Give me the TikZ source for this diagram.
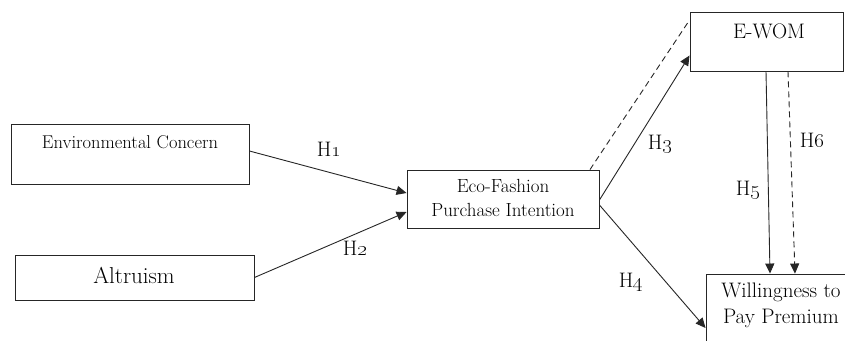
\documentclass[tikz,border=0pt]{standalone}
\usetikzlibrary{arrows.meta}
\tikzset{
  box/.style={draw=black!85, line width=0.9pt, rectangle, inner sep=0pt},
  txt/.style={inner sep=0pt, align=center, text=black},
  conn/.style={draw=black!85, line width=0.9pt},
  arr/.style={conn, -{Triangle[length=10pt,width=9pt]}},
  hyp/.style={inner sep=0pt, text=black, font=\fontsize{21}{23}\selectfont},
}
\newcommand{\hnum}[1]{H\oldstylenums{#1}}
\begin{document}
\begin{tikzpicture}[x=1pt,y=-1pt]
\clip (0,0) rectangle (845,340);
\fill[white] (0,0) rectangle (845,340);
% boxes
\node[box, minimum width=238pt, minimum height=60pt] (ec) at (130,154) {};
\node[box, minimum width=239pt, minimum height=45pt] (al) at (134.5,277.5) {};
\node[box, minimum width=192pt, minimum height=58pt] (eco) at (503,199) {};
\node[box, minimum width=153pt, minimum height=59pt] (ewom) at (766.5,41.5) {};
\node[box, minimum width=150pt, minimum height=80pt] (wtp) at (781,314) {};
% texts
\node[txt, font=\fontsize{18.5}{20}\selectfont] (tec) at (130,142) {Environmental Concern};
\node[txt, font=\fontsize{23}{25}\selectfont] (tal) at (134,275) {Altruism};
\node[txt, font=\fontsize{19}{24}\selectfont] (teco) at (503,198) {Eco-Fashion\\Purchase Intention};
\node[txt, font=\fontsize{21}{23}\selectfont] (tewom) at (769,31) {E-WOM};
\node[txt, font=\fontsize{21}{26}\selectfont] (twtp) at (781,305) {Willingness to\\Pay Premium};
% connectors
\draw[arr] ([yshift=3pt]ec.east) -- ([yshift=6pt]eco.west);
\draw[arr] (al.east) -- ([yshift=-13pt]eco.west);
\draw[arr] ([yshift=-1pt]eco.east) -- ([xshift=0pt,yshift=-14pt]ewom.west);
\draw[conn, dashed, dash pattern=on 6pt off 4pt] ([xshift=87pt]eco.north) -- ([yshift=21.5pt]ewom.west);
\draw[arr] ([yshift=-6pt]eco.east) -- ([yshift=-14pt]wtp.west);
\draw[arr] ([xshift=-0.5pt]ewom.south) -- ([xshift=-11pt]wtp.north);
\draw[arr, dashed, dash pattern=on 6pt off 4pt] ([xshift=21.5pt]ewom.south) -- ([xshift=14pt]wtp.north);
% labels
\node[hyp] (h1) at (329,149) {\hnum{1}};
\node[hyp] (h2) at (355,248) {\hnum{2}};
\node[hyp] (h3) at (660,144) {\hnum{3}};
\node[hyp] (h4) at (631,282) {\hnum{4}};
\node[hyp] (h5) at (748,190) {\hnum{5}};
\node[hyp] (h6) at (812,140) {\hnum{6}};
\end{tikzpicture}
\end{document}
